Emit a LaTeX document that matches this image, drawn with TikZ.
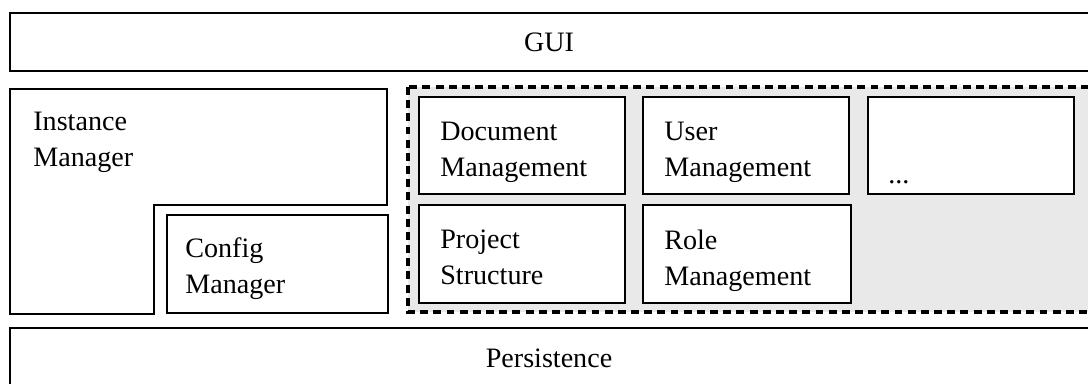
\documentclass[tikz,border=0pt]{standalone}
\usepackage{fontspec}
\setmainfont{Liberation Serif}
\usetikzlibrary{positioning}
\def\pxl{0.02cm}
\definecolor{poolgray}{HTML}{E9E9E9}
\tikzset{
  layer/.style={
    draw,
    line width=1pt,
    fill=white
  },
  module/.style={
    layer,
    anchor=north west,
    inner sep=0pt
  },
  pool/.style={
    draw,
    dash pattern=on 4.5pt off 3pt,
    line width=1.8pt,
    fill=poolgray
  },
  caption/.style={
    inner sep=0pt,
    align=left,
    font=\fontsize{16}{20.5}\selectfont,
    execute at begin node=\strut,
    execute at end node=\strut
  }
}

\begin{document}
\begin{tikzpicture}[x=\pxl, y=-\pxl]
  \clip (0,0) rectangle (1088,383);
  % layers running past the edge
  \draw[layer] (10,13) rectangle (1110,71);
  \node[caption] (gui) at (549,44) {GUI};
  \draw[layer] (10,328) rectangle (1110,420);
  \node[caption] (persistence) at (549,360) {Persistence};
  % instance manager
  \draw[layer] (10,89) -- (387,89) -- (387,205) -- (154,205) -- (154,314) -- (10,314) -- cycle;
  \node[caption, anchor=west] (instance) at (33,145) {Instance\\Manager};
  \node[module, minimum width=221*\pxl, minimum height=98*\pxl] (config) at (166,214) {};
  \node[caption, anchor=west] (configtext) at ([xshift=19*\pxl, yshift=-7*\pxl]config.west) {Config\\Manager};
  % module pool
  \draw[pool] (408,87) rectangle (1110,312);
  \node[module, minimum width=206*\pxl, minimum height=97*\pxl] (doc) at (418,96) {};
  \node[module, minimum width=206*\pxl, minimum height=97*\pxl] (user) at (642,96) {};
  \node[module, minimum width=206*\pxl, minimum height=97*\pxl] (more) at (867,96) {};
  \node[module, minimum width=206*\pxl, minimum height=98*\pxl] (project) at (418,204) {};
  \node[module, minimum width=208*\pxl, minimum height=98*\pxl] (role) at (642,204) {};
  \node[caption, anchor=west] (doctext) at ([xshift=22*\pxl, yshift=-9*\pxl]doc.west) {Document\\Management};
  \node[caption, anchor=west] (usertext) at ([xshift=22*\pxl, yshift=-9*\pxl]user.west) {User\\Management};
  \node[caption, anchor=base west] (moretext) at ([xshift=21*\pxl, yshift=-38*\pxl]more.west) {...};
  \node[caption, anchor=west] (projecttext) at ([xshift=22*\pxl, yshift=-9*\pxl]project.west) {Project\\Structure};
  \node[caption, anchor=west] (roletext) at ([xshift=22*\pxl, yshift=-9*\pxl]role.west) {Role\\Management};
\end{tikzpicture}
\end{document}
